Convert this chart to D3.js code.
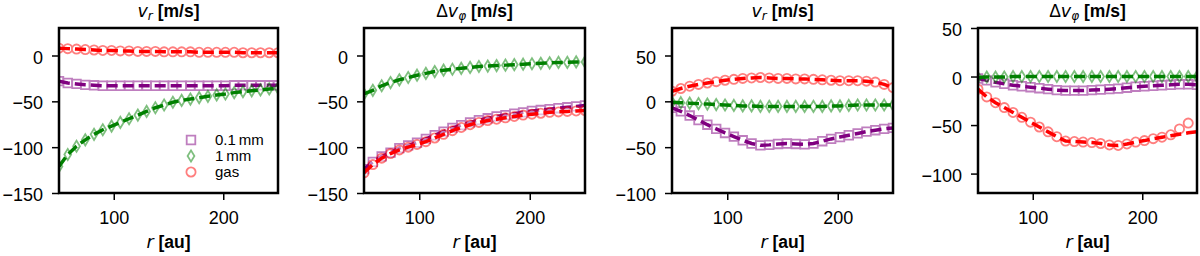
<!DOCTYPE html>
<html>
<head>
<meta charset="utf-8">
<script src="https://cdn.jsdelivr.net/npm/d3@7"></script>
<style>
  body { margin: 0; background: #fff; }
  svg { display: block; font-family: "Liberation Sans", Arial, sans-serif; }
</style>
</head>
<body>
<svg width="1200" height="256"></svg>
<script>
// radius grid [au]
const radius = [50, 58, 66, 74, 82, 90, 98, 106, 114, 122, 130, 138, 146, 154, 162, 170, 178, 186, 194, 202, 210, 218, 226, 234, 242, 250];

const seriesNames = ["0.1\u2009mm", "1\u2009mm", "gas"];

// panel 1: v_r
const p1Small = [-28, -30, -31, -32, -32.5, -33, -33, -33, -33, -33, -33, -33, -33, -33, -33, -33, -33, -33, -33, -33, -32.5, -32.5, -32.5, -32.5, -32.5, -32.5];
const p1Large = [-121, -108, -99, -92, -86, -81, -77, -73, -69, -65, -61, -57, -54, -51, -49, -47.5, -46, -44.5, -43, -42, -40.5, -39.5, -38.5, -37.5, -36.5, -35.5];
const p1Gas = [8, 7.5, 7, 6.5, 6, 5.5, 5.5, 5, 5, 4.5, 4.5, 4.5, 4, 4, 4, 4, 3.5, 3.5, 3.5, 3.5, 3.5, 3, 3, 3, 3, 3];

// panel 2: delta v_phi
const p2Small = [-124, -116, -110, -106, -101, -98, -95, -91, -87, -83, -79, -76, -73, -70.5, -68.5, -66.5, -65, -63.5, -62, -60.5, -59.5, -58.5, -57.5, -56.5, -55.5, -54.5];
const p2Large = [-42, -38, -33, -29.5, -26.5, -24, -21.5, -19.5, -17.5, -16, -15, -14, -13, -12, -11.5, -11, -10.5, -10, -9.5, -9, -8.5, -8, -7.5, -7.5, -7, -7];
const p2Gas = [-128, -119, -112, -107, -103, -100, -97, -94, -90, -86, -82, -78.5, -75.5, -73, -71, -69.5, -68, -66.5, -65, -64, -63, -62, -61.5, -61, -60.5, -60];

// panel 3: v_r
const p3Small = [-7, -11, -15.5, -20.5, -25.5, -30, -34.5, -38.5, -42.5, -46, -48, -47.5, -46.5, -46, -46.5, -47, -46, -43.5, -41, -39, -37, -35, -33, -31.5, -30, -29];
const p3Large = [-1, -1.5, -2, -2.5, -3, -3.5, -4, -4.5, -5, -5, -5.5, -5.5, -5.5, -5.5, -5.5, -5.5, -5.5, -5.5, -5, -5, -4.5, -4, -4, -4, -4, -4];
const p3Gas = [11, 14, 16.5, 18.5, 20, 21.5, 23, 24, 25, 25.5, 26, 25.5, 25, 25, 24.5, 24.5, 24, 23.5, 23, 22.5, 22.5, 22.5, 22, 21, 18.5, 15];

// panel 4: delta v_phi
const p4Small = [-2, -4, -6, -7.5, -9, -10, -11, -12, -13, -14, -14.5, -14.5, -14.5, -14, -13.5, -13, -12.5, -11.5, -10.5, -10, -9.5, -9, -8.5, -8, -8, -8.5];
const p4Large = [-1, -0.5, -0.5, -0.5, 0, 0, 0, 0, 0, 0, 0, 0, 0, 0, 0, 0, 0, 0, 0, 0, 0, 0, 0, 0, 0, 0];
const p4Gas = [-13, -21, -27, -32, -37, -42, -47, -52, -57, -62, -66.5, -67, -67.5, -68, -69, -70.5, -71, -69.5, -67.5, -66, -64, -62.5, -61, -59.5, -58, -57];
const p4GasObs = [-13, -21, -27, -32, -37, -42, -47, -52, -57, -62, -66.5, -67, -67.5, -68, -69, -70.5, -71, -69.5, -67.5, -66, -64, -62.5, -60, -54, -48, null];

const xTicks = [100, 200];
const yTicksA = [0, -50, -100, -150];
const yTicksB = [50, 0, -50, -100];

const lineColors = ["purple", "green", "red"];

const panels = [
  { title: "r", left: 59, right: 278, yDomain: [-150, 30], yTicks: yTicksA, lines: [p1Small, p1Large, p1Gas], obs: [p1Small, p1Large, p1Gas], legend: true },
  { title: "phi", left: 364, right: 585, yDomain: [-150, 30], yTicks: yTicksA, lines: [p2Small, p2Large, p2Gas], obs: [p2Small, p2Large, p2Gas] },
  { title: "r", left: 672, right: 893, yDomain: [-100, 80], yTicks: yTicksB, lines: [p3Small, p3Large, p3Gas], obs: [p3Small, p3Large, p3Gas] },
  { title: "phi", left: 978, right: 1197, yDomain: [-120, 50], yTicks: yTicksB, lines: [p4Small, p4Large, p4Gas], obs: [p4Small, p4Large, p4GasObs] }
];

const plotTop = 28, plotBottom = 193;
const svg = d3.select("svg");

// marker shapes
function markerPath(kind) {
  if (kind === 0) return "M-4.3,-4.3H4.3V4.3H-4.3Z";
  if (kind === 1) return "M0,-5.6L3.4,0L0,5.6L-3.4,0Z";
  return d3.symbol(d3.symbolCircle, Math.PI * 4.6 * 4.6)();
}

panels.forEach((p, pi) => {
  const x = d3.scaleLinear().domain([50, 250]).range([p.left, p.right]);
  const y = d3.scaleLinear().domain(p.yDomain).range([plotBottom, plotTop]);
  const g = svg.append("g");

  const clipId = "clip" + pi;
  svg.append("clipPath").attr("id", clipId)
    .append("rect").attr("x", p.left).attr("y", plotTop)
    .attr("width", p.right - p.left).attr("height", plotBottom - plotTop);

  const plot = g.append("g").attr("clip-path", `url(#${clipId})`);

  const line = d3.line()
    .x((d, i) => x(radius[i]))
    .y(d => y(d));

  p.lines.forEach((vals, si) => {
    const pts = p.obs[si].map((v, i) => ({ r: radius[i], v: v })).filter(d => d.v !== null);
    plot.append("g")
      .attr("opacity", 0.5)
      .selectAll("path")
      .data(pts)
      .enter().append("path")
      .attr("d", markerPath(si))
      .attr("transform", d => `translate(${x(d.r)},${y(d.v)})`)
      .attr("fill", "white")
      .attr("stroke", lineColors[si])
      .attr("stroke-width", 1.8);

    plot.append("path")
      .datum(vals)
      .attr("d", line)
      .attr("fill", "none")
      .attr("stroke", lineColors[si])
      .attr("stroke-width", 3.5)
      .attr("stroke-dasharray", "11,5");
  });

  // axes
  const xAxis = g.append("g")
    .attr("transform", `translate(0,${plotBottom})`)
    .call(d3.axisBottom(x).tickValues(xTicks).tickSize(7).tickPadding(11).tickFormat(d3.format("d")));
  const yAxis = g.append("g")
    .attr("transform", `translate(${p.left},0)`)
    .call(d3.axisLeft(y).tickValues(p.yTicks).tickSize(7).tickPadding(9).tickFormat(d3.format("d")));
  [xAxis, yAxis].forEach(a => {
    a.select(".domain").remove();
    a.selectAll("line").attr("stroke", "black").attr("stroke-width", 1.5);
    a.selectAll("text").attr("font-size", 18).attr("fill", "black")
      .attr("font-family", "'Liberation Sans', Arial, sans-serif");
  });
  yAxis.selectAll("text").attr("dy", "0.42em");

  // frame
  g.append("rect")
    .attr("x", p.left).attr("y", plotTop)
    .attr("width", p.right - p.left).attr("height", plotBottom - plotTop)
    .attr("fill", "none").attr("stroke", "black").attr("stroke-width", 2.5);

  // title
  const cx = (p.left + p.right) / 2;
  const t = g.append("text").attr("x", cx).attr("y", 17)
    .attr("text-anchor", "middle").attr("font-size", 17.5);
  if (p.title === "phi") t.append("tspan").text("\u0394");
  t.append("tspan").attr("font-style", "italic").attr("font-family", "'DejaVu Sans', sans-serif").attr("font-size", 17.5).text("v");
  t.append("tspan").attr("font-style", "italic").attr("font-family", "'DejaVu Sans', sans-serif")
    .attr("font-size", 12).attr("dy", 3).text(p.title === "phi" ? "\u03C6" : "r");
  t.append("tspan").attr("dy", -3).attr("font-weight", "bold").text(" [m/s]");

  // x label
  const xl = g.append("text").attr("x", cx).attr("y", 248)
    .attr("text-anchor", "middle").attr("font-size", 17.5);
  xl.append("tspan").attr("font-style", "italic").attr("font-family", "'DejaVu Sans', sans-serif").text("r");
  xl.append("tspan").attr("font-weight", "bold").text(" [au]");

  // legend
  if (p.legend) {
    const lg = g.append("g");
    seriesNames.forEach((name, si) => {
      const ly = 140 + si * 16;
      lg.append("path")
        .attr("d", markerPath(si))
        .attr("transform", `translate(191,${ly})`)
        .attr("fill", "white").attr("stroke", lineColors[si])
        .attr("stroke-width", 1.8).attr("opacity", 0.5);
      lg.append("text").attr("x", 215).attr("y", ly + 5)
        .attr("font-size", 15).text(name);
    });
  }
});
</script>
</body>
</html>
